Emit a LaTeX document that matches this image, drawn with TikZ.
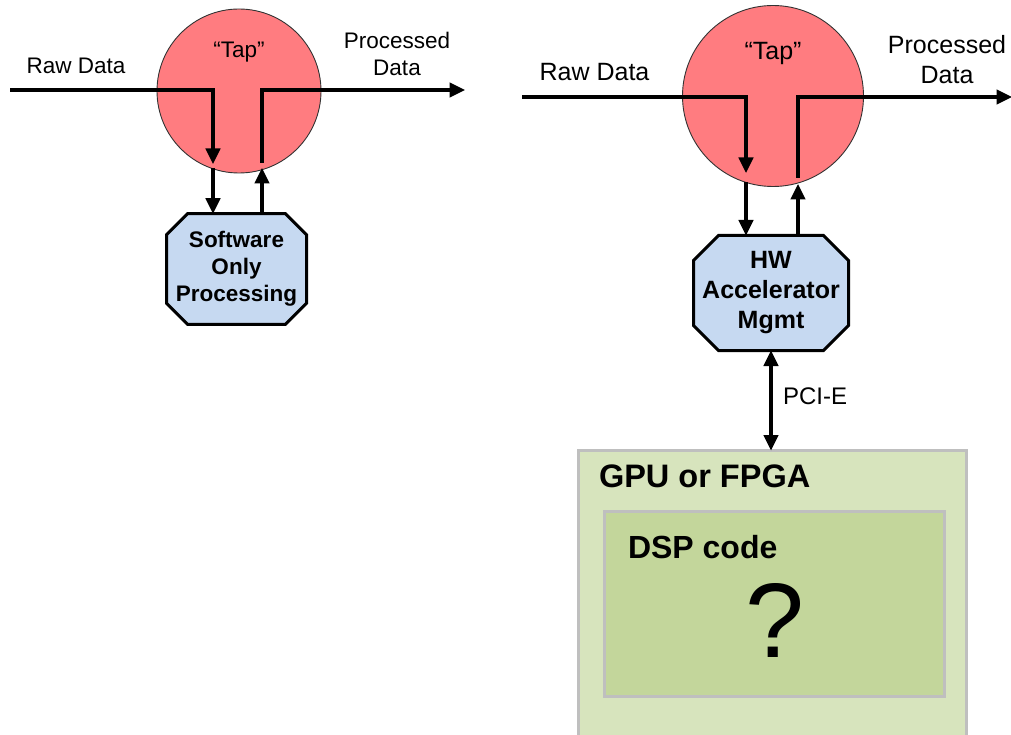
\documentclass[tikz,border=0pt]{standalone}
\usepackage{fontspec}
\setmainfont{Liberation Sans}
\usetikzlibrary{arrows.meta,backgrounds}
\definecolor{tapred}{HTML}{FF7C80}
\definecolor{boxblue}{HTML}{C6D9F1}
\definecolor{outergreen}{HTML}{D7E4BD}
\definecolor{innergreen}{HTML}{C3D69B}
\definecolor{framegray}{HTML}{BFBFBF}
% octagon outline drawn behind a rectangular node #1 with corner cut #2
\newcommand{\octagonbehind}[2]{%
  \begin{scope}[on background layer]
    \filldraw[fill=boxblue,draw=black,line width=3pt,line join=miter]
      ([xshift=#2]#1.north west) -- ([xshift=-#2]#1.north east)
      -- ([yshift=-#2]#1.north east) -- ([yshift=#2]#1.south east)
      -- ([xshift=-#2]#1.south east) -- ([xshift=#2]#1.south west)
      -- ([yshift=#2]#1.south west) -- ([yshift=-#2]#1.north west) -- cycle;
  \end{scope}}
\begin{document}
\begin{tikzpicture}[x=1pt,y=-1pt,
  flow/.style={line width=3.2pt},
  arr/.style={flow,-{Triangle[length=15.5pt,width=14.5pt]}},
  biarr/.style={flow,{Triangle[length=15.5pt,width=14.5pt]}-{Triangle[length=15.5pt,width=14.5pt]}},
  tap/.style={circle,fill=tapred,draw=black!80,line width=0.9pt,inner sep=0pt,outer sep=0pt},
  octa/.style={rectangle,inner sep=0pt,outer sep=0pt,align=center},
  panel/.style={rectangle,draw=framegray,line width=3pt,inner sep=0pt,outer sep=0pt},
  txt/.style={inner sep=0pt,outer sep=0pt},
  smallfont/.style={font=\fontsize{22.5}{27}\selectfont},
  bigfont/.style={font=\fontsize{25}{30}\selectfont},
]
\useasboundingbox (0,0) rectangle (1011,735);

% ---------- software-only tap ----------
\node[tap,minimum size=164pt] (ltap) at (239,91) {};
\node[txt,smallfont,anchor=north] (ltaplbl) at (239,42) {“Tap”};
\node[txt,smallfont,anchor=north] (lraw) at (76,58) {Raw Data};
\node[txt,smallfont,anchor=north,align=center] (lproc) at (397,32) {Processed\\Data};
\node[octa,minimum width=140pt,minimum height=110.5pt,
      font=\fontsize{22.5}{27}\selectfont\bfseries] (lsw) at (236.5,269) {Software\\Only\\Processing};
\octagonbehind{lsw}{21pt}

\coordinate (lin) at (10,90);
\coordinate (lbendA) at (213,90);
\coordinate (lhitA) at (213,168);
\coordinate (lbendB) at (262,90);
\coordinate (lhitB) at (262,168);
\coordinate (lout) at (465,90);

\draw[arr,shorten >=4pt] (lin) -- (lbendA) -- (lhitA);
\draw[arr] (lhitA) -- (lhitA |- lsw.north);
\draw[arr] (lhitB |- lsw.north) -- (lhitB);
\draw[arr,shorten <=5pt] (lhitB) -- (lbendB) -- (lout);

% ---------- hardware-accelerated tap ----------
\node[tap,minimum size=181pt] (rtap) at (773,96) {};
\node[txt,bigfont,anchor=north] (rtaplbl) at (773,42) {“Tap”};
\node[txt,bigfont,anchor=north] (rraw) at (594.5,63) {Raw Data};
\node[txt,bigfont,anchor=north,align=center] (rproc) at (947,35) {Processed\\Data};
\node[octa,minimum width=155pt,minimum height=115pt,
      font=\fontsize{25}{30}\selectfont\bfseries] (racc) at (771,293) {HW\\Accelerator\\Mgmt};
\octagonbehind{racc}{25pt}

\coordinate (rin) at (522,97);
\coordinate (rbendA) at (746,97);
\coordinate (rhitA) at (746,182);
\coordinate (rbendB) at (798,97);
\coordinate (rhitB) at (798,184);
\coordinate (rout) at (1012,97);

\draw[arr,shorten >=9pt] (rin) -- (rbendA) -- (rhitA);
\draw[arr] (rhitA) -- (rhitA |- racc.north);
\draw[arr] (rhitB |- racc.north) -- (rhitB);
\draw[arr,shorten <=6pt] (rhitB) -- (rbendB) -- (rout);

% ---------- accelerator card ----------
\node[panel,fill=outergreen,minimum width=388pt,minimum height=300pt,anchor=north west] (gpu) at (578.5,450.5) {};
\node[panel,fill=innergreen,minimum width=340pt,minimum height=185pt,anchor=north west] (dsp) at (604.5,511.5) {};
\node[txt,anchor=north west,font=\fontsize{32.5}{36}\selectfont\bfseries] (gpulbl) at (599,465) {GPU or FPGA};
\node[txt,anchor=north west,font=\fontsize{32}{36}\selectfont\bfseries] (dsplbl) at (628,535) {DSP code};
\node[txt,anchor=north,font=\fontsize{106}{110}\selectfont] (qmark) at (774.5,583) {?};

\draw[biarr] (racc.south) -- (racc.south |- gpu.north);
\node[txt,anchor=north west,font=\fontsize{24}{28}\selectfont] (pcie) at (783,388) {PCI-E};
\end{tikzpicture}
\end{document}
